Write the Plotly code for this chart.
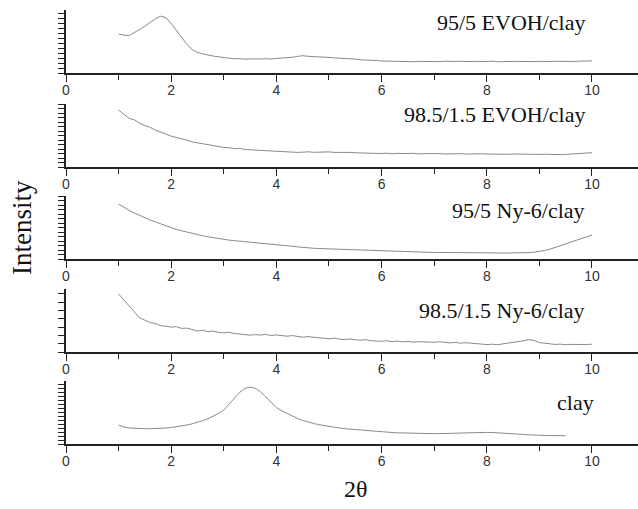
import plotly.graph_objects as go

# 2-theta grid (degrees), step 0.1
two_theta = [round(1.0 + 0.1 * i, 1) for i in range(91)]
two_theta_clay = [round(1.0 + 0.1 * i, 1) for i in range(86)]

labels = ["95/5 EVOH/clay", "98.5/1.5 EVOH/clay", "95/5 Ny-6/clay",
          "98.5/1.5 Ny-6/clay", "clay"]

evoh_95_5 = [39, 37.8, 37.6, 40.2, 43.5, 46.8, 50.6, 54.2, 56.8, 55.4,
             49.5, 42.3, 35.2, 28.6, 23.4, 20.6, 19.1, 17.8, 16.9, 16.2,
             15.3, 14.6, 14.2, 14.4, 13.8, 14.1, 13.7, 14.0, 14.3, 14.0,
             14.6, 14.9, 15.4, 15.7, 16.6, 17.3, 16.7, 16.6, 16.0, 15.9,
             15.6, 15.1, 14.9, 14.6, 14.2, 13.9, 13.2, 13.1, 12.4, 12.5,
             12.0, 11.8, 11.6, 11.9, 11.4, 11.7, 11.3, 11.6, 11.5, 11.2,
             11.6, 11.4, 11.8, 11.3, 11.5, 11.7, 11.2, 11.4, 11.6, 11.3,
             11.5, 11.8, 11.2, 11.4, 11.7, 11.3, 11.6, 11.5, 11.8, 11.4,
             11.6, 11.3, 11.5, 11.7, 11.4, 11.6, 11.5, 11.7, 12.0, 12.6,
             12.2]

evoh_98_5 = [57, 52.5, 48.6, 47.2, 43.8, 41.5, 39.6, 36.8, 35.2, 32.9,
             30.8, 29.6, 27.9, 26.8, 25.1, 24.2, 23.4, 21.8, 21.3, 20.2,
             19.6, 19.3, 18.4, 18.6, 17.5, 17.2, 16.9, 16.2, 16.4, 15.7,
             15.3, 15.5, 14.9, 15.1, 14.6, 14.8, 15.2, 14.7, 15.0, 14.9,
             15.1, 14.6, 14.8, 14.3, 14.6, 14.2, 14.0, 13.8, 14.1, 13.7,
             13.5, 13.8, 13.3, 13.6, 13.2, 13.4, 13.7, 13.1, 13.3, 13.5,
             13.2, 13.4, 13.0, 13.3, 13.1, 13.4, 12.9, 13.2, 13.0, 13.3,
             13.0, 12.8, 13.1, 12.9, 12.7, 13.0, 12.8, 12.6, 12.9, 12.7,
             12.6, 12.8, 12.5, 12.7, 12.4, 12.6, 12.9, 13.1, 13.5, 13.8,
             14.3]

ny6_95_5 = [55, 51.5, 48.6, 46.0, 43.4, 41.1, 39.0, 37.0, 35.0, 33.0,
            31.0, 29.6, 28.2, 26.8, 25.5, 24.3, 23.2, 22.2, 21.2, 20.3,
            19.5, 18.9, 18.3, 17.8, 17.3, 16.9, 16.5, 16.2, 15.8, 15.4,
            15.0, 14.3, 13.5, 12.8, 12.1, 11.5, 11.1, 10.8, 10.5, 10.3,
            10.0, 9.8, 9.6, 9.4, 9.2, 9.0, 8.7, 8.5, 8.2, 8.0,
            7.8, 7.7, 7.5, 7.4, 7.2, 7.1, 7.0, 6.9, 6.8, 6.7,
            6.6, 6.5, 6.5, 6.4, 6.3, 6.3, 6.2, 6.2, 6.1, 6.1,
            6.0, 6.0, 6.0, 6.0, 6.0, 6.0, 6.1, 6.2, 6.4, 6.8,
            7.5, 8.5, 9.8, 11.5, 13.2, 15.0, 16.8, 18.6, 20.4, 22.2,
            24.0]

ny6_98_5 = [58, 52.3, 46.5, 40.1, 34.2, 31.8, 29.4, 28.6, 26.3, 25.8,
            24.9, 25.3, 23.6, 23.9, 22.4, 21.0, 21.8, 20.4, 20.9, 19.6,
            19.2, 19.7, 18.6, 18.1, 17.9, 16.8, 17.4, 16.9, 17.6, 16.5,
            17.1, 16.2, 15.8, 16.4, 15.3, 14.8, 15.4, 14.6, 14.2, 13.8,
            13.2, 13.9, 12.8, 12.5, 13.1, 12.2, 11.8, 12.4, 11.3, 11.0,
            10.7, 11.2, 10.4, 10.9, 10.1, 10.6, 9.8, 10.3, 9.9, 9.6,
            9.7, 10.2, 9.4, 9.1, 9.6, 8.8, 9.3, 8.6, 8.2, 7.9,
            7.4, 7.8, 7.3, 8.1, 8.4, 9.0, 9.8, 11.2, 12.4, 11.5,
            9.4, 8.6, 8.1, 7.6, 7.8, 7.3, 7.6, 7.4, 7.7, 7.5,
            7.8]

clay = [19.0, 17.0, 16.0, 15.6, 15.4, 15.3, 15.3, 15.4, 15.6, 16.0,
        16.5, 17.2, 18.0, 19.0, 20.2, 21.6, 23.3, 25.2, 27.6, 30.6,
        34.0, 39.5, 45.8, 51.5, 55.5, 57.0, 55.6, 52.2, 47.0, 41.5,
        36.4, 33.3, 30.6, 28.0, 25.6, 23.6, 21.9, 20.6, 19.4, 18.4,
        17.6, 16.8, 16.0, 15.3, 14.8, 14.3, 13.8, 13.3, 12.9, 12.5,
        12.1, 11.8, 11.5, 11.2, 11.0, 10.8, 10.6, 10.5, 10.4, 10.3,
        10.3, 10.4, 10.6, 10.8, 11.0, 11.2, 11.4, 11.5, 11.6, 11.6,
        11.6, 11.5, 11.3, 11.0, 10.7, 10.3, 9.9, 9.5, 9.1, 8.8,
        8.6, 8.5, 8.4, 8.3, 8.3, 8.3]

series_x = [two_theta, two_theta, two_theta, two_theta, two_theta_clay]
series_y = [evoh_95_5, evoh_98_5, ny6_95_5, ny6_98_5, clay]
label_y = [51, 52, 49, 42, 42]
label_x = [9.9, 9.9, 9.9, 9.9, 10.08]

# layout geometry
W, H = 638, 509
ML, MR, MT, MB = 66, 0, 10, 65
plot_h = H - MT - MB
baselines = [73, 167, 259, 352, 444]
panel_h = 63
ytick_step = [5, 4.5, 4.5, 8.3, 4]

fig = go.Figure()
layout = dict(
    width=W, height=H,
    margin=dict(l=ML, r=MR, t=MT, b=MB),
    paper_bgcolor="white", plot_bgcolor="white",
    showlegend=False,
)
annotations = []
AX = "#222222"
for i in range(5):
    n = "" if i == 0 else str(i + 1)
    fig.add_trace(go.Scatter(
        x=series_x[i], y=series_y[i], mode="lines",
        line=dict(color="#8a8a8a", width=1),
        xaxis="x" + n, yaxis="y" + n, hoverinfo="skip"))
    bottom = (H - MB - baselines[i]) / plot_h
    top = (H - MB - baselines[i] + panel_h) / plot_h
    layout["xaxis" + n] = dict(
        domain=[0, 1], range=[0, 10.875], anchor="y" + n,
        showline=True, linecolor=AX, linewidth=1.5,
        ticks="outside", ticklen=7, tickwidth=1.3, tickcolor=AX,
        tick0=0, dtick=2, showgrid=False, zeroline=False,
        ticklabelstandoff=-4,
        tickfont=dict(family="Liberation Sans, Arial", size=14, color="#333333"),
        minor=dict(dtick=1, tick0=0, ticks="outside", ticklen=5,
                   tickwidth=1.2, tickcolor=AX, showgrid=False),
    )
    layout["yaxis" + n] = dict(
        domain=[max(bottom, 0), min(top, 1)], range=[0, panel_h], anchor="x" + n,
        showline=True, linecolor=AX, linewidth=1.5,
        ticks="outside", ticklen=6, tickwidth=1.1, tickcolor=AX,
        tick0=0, dtick=ytick_step[i], showticklabels=False,
        showgrid=False, zeroline=False,
    )
    annotations.append(dict(
        x=label_x[i], y=label_y[i], xref="x" + n, yref="y" + n,
        text=labels[i], showarrow=False, xanchor="right", yanchor="middle",
        font=dict(family="Liberation Serif, Times New Roman", size=22, color="#111111"),
    ))

annotations.append(dict(
    x=(22 - ML) / (W - ML - MR), y=(H - MB - 228) / plot_h,
    xref="paper", yref="paper", text="Intensity", textangle=-90,
    showarrow=False, xanchor="center", yanchor="middle",
    font=dict(family="Liberation Serif, Times New Roman", size=27, color="#111111"),
))
annotations.append(dict(
    x=(356 - ML) / (W - ML - MR), y=(H - MB - 489) / plot_h,
    xref="paper", yref="paper", text="2θ",
    showarrow=False, xanchor="center", yanchor="middle",
    font=dict(family="Liberation Serif, Times New Roman", size=24, color="#111111"),
))
layout["annotations"] = annotations
fig.update_layout(**layout)
fig.write_html("out.html")
